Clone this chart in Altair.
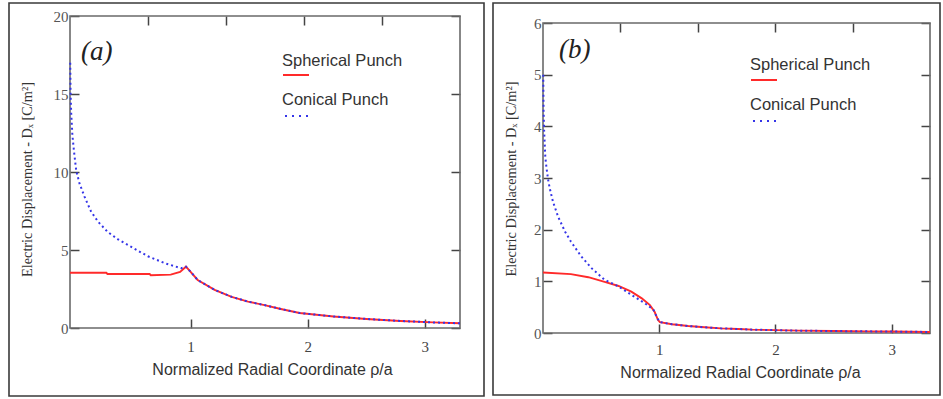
import altair as alt
import pandas as pd

# ---------------- data ----------------
# Panel (a)
a_sph_x = [0.0, 0.31, 0.32, 0.68, 0.69, 0.86, 0.94, 0.99]
a_sph_y = [3.54, 3.54, 3.46, 3.46, 3.38, 3.42, 3.59, 3.93]
a_con_x = [0.002, 0.005, 0.01, 0.02, 0.033, 0.053, 0.081, 0.124, 0.18, 0.24,
           0.32, 0.41, 0.52, 0.665, 0.81, 0.95, 0.99]
a_con_y = [17.0, 15.0, 13.8, 12.4, 11.4, 10.1, 9.27, 8.42, 7.46, 6.81,
           6.17, 5.68, 5.21, 4.6, 4.15, 3.83, 3.93]
a_tail_x = [1.03, 1.09, 1.235, 1.38, 1.52, 1.66, 1.8, 1.96, 2.25, 2.53, 2.82, 3.1, 3.33]
a_tail_y = [3.6, 3.08, 2.44, 2.0, 1.69, 1.47, 1.22, 0.96, 0.74, 0.58, 0.45, 0.36, 0.30]

# Panel (b)
b_sph_x = [0.0, 0.24, 0.39, 0.53, 0.65, 0.76, 0.85, 0.92, 0.96, 0.99, 1.006]
b_sph_y = [1.17, 1.14, 1.08, 0.99, 0.91, 0.80, 0.67, 0.54, 0.41, 0.25, 0.21]
b_con_x = [0.002, 0.005, 0.01, 0.02, 0.03, 0.043, 0.058, 0.086, 0.13, 0.19,
           0.24, 0.33, 0.42, 0.53, 0.65, 0.76, 0.88, 0.95, 0.985, 1.006]
b_con_y = [5.0, 4.3, 3.9, 3.4, 3.2, 2.98, 2.8, 2.54, 2.25, 1.96,
           1.77, 1.48, 1.25, 1.03, 0.90, 0.74, 0.57, 0.45, 0.28, 0.21]
b_tail_x = [1.11, 1.25, 1.39, 1.53, 1.68, 1.8, 2.0, 2.2, 2.5, 2.8, 3.0, 3.33]
b_tail_y = [0.17, 0.135, 0.11, 0.09, 0.077, 0.065, 0.055, 0.045, 0.038, 0.032, 0.028, 0.02]

x_tick_labels = [1, 2, 3]
top_ticks = [0.666, 1.332, 1.998, 2.664]
a_y_ticks = [0, 5, 10, 15, 20]
b_y_ticks = [0, 1, 2, 3, 4, 5, 6]

legend_labels = ["Spherical Punch", "Conical Punch"]
y_title = "Electric Displacement - Dₓ [C/m²]"
x_title = "Normalized Radial Coordinate ρ/a"

RED = "#ff2a2a"
BLUE = "#3535e8"
TICK = "#444444"
SERIF = "Liberation Serif"
SANS = "Liberation Sans"
CW, CH = 943, 399

one = pd.DataFrame({"k": [0]})


def box(x1, x2, y1, y2, color, sw):
    return alt.Chart(one).mark_rect(fillOpacity=0, stroke=color, strokeWidth=sw).encode(
        x=alt.value(x1), x2=alt.value(x2), y=alt.value(y1), y2=alt.value(y2))


def panel(sx, sy, cx, cy, tx, ty, ymax, yticks, px, py, tag, frame, leg, tagpos,
          ytp, ytitle_y, lab_off, title_xy, lab_pad):
    x0, x1 = px
    y0, y1 = py  # top, bottom
    sph = pd.DataFrame({"x": sx + tx, "y": sy + ty})
    con = pd.DataFrame({"x": cx + tx, "y": cy + ty})
    xs = alt.Scale(domain=[0, 3.33], range=[x0, x1], nice=False, zero=False)
    ys = alt.Scale(domain=[0, ymax], range=[y1, y0], nice=False, zero=False)
    tk = dict(labels=False, title=None, tickSize=9, tickColor=TICK, tickWidth=1.5,
              domain=False, grid=False)

    outer = box(frame[0], frame[1], frame[2], frame[3], "#3a3a3a", 1.6)
    inner = box(x0, x1, y0, y1, "#6a6a6a", 1.6)

    red = alt.Chart(sph).mark_line(color=RED, strokeWidth=1.9).encode(
        x=alt.X("x:Q", scale=xs, axis=alt.Axis(
            orient="bottom", offset=y1 - CH,
            values=x_tick_labels, title=x_title, ticks=False, domain=False, grid=False,
            labelFont=SERIF, labelFontSize=15, labelColor="#444", labelPadding=lab_pad,
            labelOffset=lab_off,
            titleFont=SANS, titleFontSize=16, titleFontWeight="normal",
            titleColor="#333", titleX=title_xy[0], titleY=title_xy[1],
            titleBaseline="middle", titleAlign="center")),
        y=alt.Y("y:Q", scale=ys, axis=alt.Axis(
            orient="left", offset=-x0,
            values=yticks, title=y_title, ticks=False, domain=False, grid=False,
            labelFont=SERIF, labelFontSize=15, labelColor="#555", labelPadding=2,
            titleFont=SERIF, titleFontSize=14.3, titleFontWeight="normal",
            titleColor="#333", titlePadding=ytp, titleY=ytitle_y)))

    blue = alt.Chart(con).mark_line(color=BLUE, strokeWidth=2, strokeDash=[2, 3]).encode(
        x=alt.X("x:Q", scale=xs, axis=alt.Axis(
            orient="top", offset=-y1, values=x_tick_labels, tickOffset=lab_off, **tk)),
        y=alt.Y("y:Q", scale=ys, axis=alt.Axis(
            orient="right", offset=x0 - CW, values=yticks, **tk)))

    ghost = alt.Chart(con).mark_point(opacity=0).encode(
        x=alt.X("x:Q", scale=xs, axis=alt.Axis(
            orient="bottom", offset=y0 - CH, values=top_ticks, **tk)),
        y=alt.Y("y:Q", scale=ys, axis=alt.Axis(
            orient="left", offset=-x1, values=yticks, **tk)))

    lx, ly1, ly2, ly3, ly4 = leg
    t1 = alt.Chart(one).mark_text(text=legend_labels[0], align="left", baseline="middle",
                                  font=SANS, fontSize=16.5, color="#333").encode(
        x=alt.value(lx), y=alt.value(ly1))
    l1 = alt.Chart(one).mark_rule(color=RED, strokeWidth=2).encode(
        x=alt.value(lx + 1), x2=alt.value(lx + 27), y=alt.value(ly2))
    t2 = alt.Chart(one).mark_text(text=legend_labels[1], align="left", baseline="middle",
                                  font=SANS, fontSize=16.5, color="#333").encode(
        x=alt.value(lx), y=alt.value(ly3))
    l2 = alt.Chart(one).mark_rule(color=BLUE, strokeWidth=2, strokeDash=[2, 5]).encode(
        x=alt.value(lx + 3), x2=alt.value(lx + 29), y=alt.value(ly4))
    tg = alt.Chart(one).mark_text(text=tag, align="left", baseline="middle", font=SERIF,
                                  fontStyle="italic", fontSize=27, color="#222").encode(
        x=alt.value(tagpos[0]), y=alt.value(tagpos[1]))

    return [outer, inner, red, blue, ghost, t1, l1, t2, l2, tg]


layers = panel(a_sph_x, a_sph_y, a_con_x, a_con_y, a_tail_x, a_tail_y, 20, a_y_ticks,
               (70, 460), (16, 328), "(a)", (9, 484, 3, 396), (282, 61, 75, 100, 116),
               (81, 52), 19, 179, 3.5, (272, 41), 11)
layers += panel(b_sph_x, b_sph_y, b_con_x, b_con_y, b_tail_x, b_tail_y, 6, b_y_ticks,
                (543, 930), (23, 333), "(b)", (493, 940, 3, 395), (750, 65, 80, 105, 121),
                (559, 50), 15, 178.5, 0, (740, 39.5), 9.5)

chart = alt.layer(*layers).resolve_scale(
    x="independent", y="independent"
).resolve_axis(
    x="independent", y="independent"
).properties(
    width=CW, height=CH,
    autosize=alt.AutoSizeParams(type="none"),
    padding=0,
    background="white",
).configure_view(strokeWidth=0)

chart.save("out.html", embed_options={"renderer": "svg", "actions": False})
